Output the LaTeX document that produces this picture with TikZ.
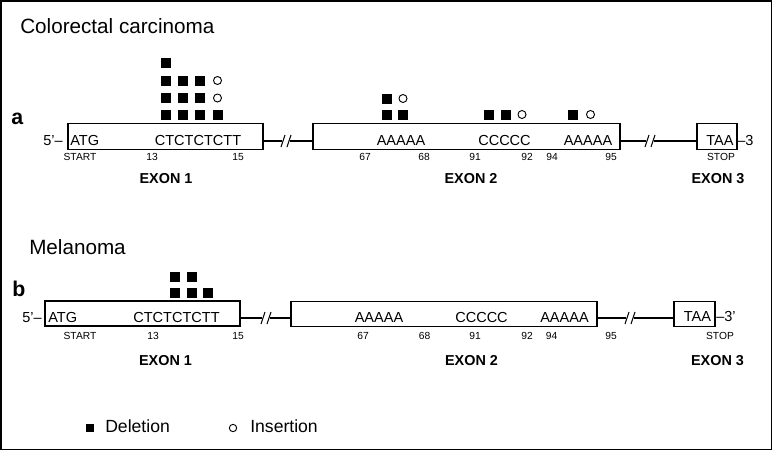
\documentclass[tikz,border=0pt]{standalone}
\usepackage{fontspec}
\setmainfont{Liberation Sans}
\usetikzlibrary{calc}
\tikzstyle{exon} = [rectangle, draw, line width=0.9pt, inner sep=0pt]
\tikzstyle{gene} = [line width=0.8pt]
\tikzstyle{seq} = [anchor=base, inner sep=0pt, font=\fontsize{10.9}{12}\selectfont]
\tikzstyle{poslabel} = [anchor=base, inner sep=0pt, font=\fontsize{7.7}{9}\selectfont]
\tikzstyle{exonlabel} = [anchor=base, inner sep=0pt, font=\fontsize{10.8}{12}\selectfont\bfseries]
\tikzstyle{panel} = [anchor=base west, inner sep=0pt, font=\fontsize{16}{18}\selectfont\bfseries]
\tikzstyle{heading} = [anchor=base west, inner sep=0pt, font=\fontsize{15.5}{18}\selectfont]
\tikzstyle{del} = [rectangle, fill=black, minimum size=7.5pt, inner sep=0pt]
\tikzstyle{ins} = [circle, draw, line width=0.7pt, minimum size=6pt, inner sep=0pt]
\newcommand{\genebreak}[1]{%
  \draw[gene] ($(#1)+(-6,6)$) -- ($(#1)+(-2,-6)$);
  \draw[gene] ($(#1)+(0,6)$) -- ($(#1)+(4,-6)$);}

\begin{document}
\begin{tikzpicture}[x=0.75pt, y=-0.75pt]
        \useasboundingbox (0,0) rectangle (773,451);
        \draw[line width=1.1pt] (1,1) rectangle (771.5,449.5);

        % panel a
        \node[heading] (TitleA) at (20,33) {Colorectal carcinoma};
        \node[panel] (LabelA) at (11,124) {a};
        \node[exon, minimum width=146.25pt, minimum height=19.5pt] at (165.5,136.5) (ExonOneA) {};
        \node[exon, minimum width=230.25pt, minimum height=19.5pt] at (466.5,136.5) (ExonTwoA) {};
        \node[exon, minimum width=30pt, minimum height=19.5pt] at (717,136.5) (ExonThreeA) {};

        \node[seq, anchor=base east] at (63,145) (FiveA) {5'–};
        \node[seq, anchor=base west] at (70,145) (AtgA) {ATG};
        \node[seq] at (198,145) (CodonA) {CTCTCTCTT};
        \node[seq] at (401,145) (PolyAOneA) {AAAAA};
        \node[seq] at (504.5,145) (PolyCA) {CCCCC};
        \node[seq] at (588,145) (PolyATwoA) {AAAAA};
        \node[seq] at (720,145) (TaaA) {TAA};
        \node[seq, anchor=base west] at (737,145) (ThreeA) {–3};

        \node[poslabel] at (80,160) (StartA) {START};
        \node[poslabel] at (152,160) (PosA13) {13};
        \node[poslabel] at (238,160) (PosA15) {15};
        \node[poslabel] at (365,160) (PosA67) {67};
        \node[poslabel] at (424,160) (PosA68) {68};
        \node[poslabel] at (475,160) (PosA91) {91};
        \node[poslabel] at (527,160) (PosA92) {92};
        \node[poslabel] at (552,160) (PosA94) {94};
        \node[poslabel] at (611,160) (PosA95) {95};
        \node[poslabel] at (721,160) (StopA) {STOP};

        \node[exonlabel] at (166,183) (NameOneA) {EXON 1};
        \node[exonlabel] at (471,183) (NameTwoA) {EXON 2};
        \node[exonlabel] at (718,183) (NameThreeA) {EXON 3};

        \coordinate (BreakOneA) at (287,141);
        \coordinate (BreakTwoA) at (651,141);
        \draw[gene] (ExonOneA.east |- BreakOneA) -- ($(BreakOneA)+(-5,0)$);
        \draw[gene] ($(BreakOneA)+(3,0)$) -- (ExonTwoA.west |- BreakOneA);
        \draw[gene] (ExonTwoA.east |- BreakTwoA) -- ($(BreakTwoA)+(-5,0)$);
        \draw[gene] ($(BreakTwoA)+(3,0)$) -- (ExonThreeA.west |- BreakTwoA);
        \genebreak{BreakOneA}
        \genebreak{BreakTwoA}

        \foreach \x/\y [count=\i] in {166/63, 166/80.5, 166/98, 166/115, 183/80.5, 183/98, 183/115,
            199.5/80.5, 199.5/98, 199.5/115, 217.5/115, 387/98.5, 387/114.5, 403/114.5,
            488.5/114.5, 505.5/114.5, 573/114.5}
            \node[del] (DelA\i) at (\x,\y) {};
        \foreach \x/\y [count=\i] in {217.5/80.5, 217.5/98, 403/98.5, 522/114.5, 590.5/114.5}
            \node[ins] (InsA\i) at (\x,\y) {};

        % panel b
        \node[heading] (TitleB) at (29,254) {Melanoma};
        \node[panel] (LabelB) at (12,296) {b};
        \node[exon, minimum width=146.25pt, minimum height=18.75pt] at (142.5,313.5) (ExonOneB) {};
        \node[exon, minimum width=229.5pt, minimum height=18.75pt] at (444,314) (ExonTwoB) {};
        \node[exon, minimum width=30.75pt, minimum height=18.75pt] at (694.5,314) (ExonThreeB) {};

        \node[seq, anchor=base east] at (42,322) (FiveB) {5'–};
        \node[seq, anchor=base west] at (48,322) (AtgB) {ATG};
        \node[seq] at (176.5,322) (CodonB) {CTCTCTCTT};
        \node[seq] at (379,322) (PolyAOneB) {AAAAA};
        \node[seq] at (481.5,322) (PolyCB) {CCCCC};
        \node[seq] at (564.5,322) (PolyATwoB) {AAAAA};
        \node[seq] at (697.5,321) (TaaB) {TAA};
        \node[seq, anchor=base west] at (716,321) (ThreeB) {–3'};

        \node[poslabel] at (80,339) (StartB) {START};
        \node[poslabel] at (153,339) (PosB13) {13};
        \node[poslabel] at (238,339) (PosB15) {15};
        \node[poslabel] at (363,339) (PosB67) {67};
        \node[poslabel] at (424.5,339) (PosB68) {68};
        \node[poslabel] at (475,339) (PosB91) {91};
        \node[poslabel] at (527,339) (PosB92) {92};
        \node[poslabel] at (551.5,339) (PosB94) {94};
        \node[poslabel] at (611,339) (PosB95) {95};
        \node[poslabel] at (720,339) (StopB) {STOP};

        \node[exonlabel] at (165.5,365) (NameOneB) {EXON 1};
        \node[exonlabel] at (471.5,365) (NameTwoB) {EXON 2};
        \node[exonlabel] at (717.5,365) (NameThreeB) {EXON 3};

        \coordinate (BreakOneB) at (267,318);
        \coordinate (BreakTwoB) at (631,318);
        \draw[gene] (ExonOneB.east |- BreakOneB) -- ($(BreakOneB)+(-5,0)$);
        \draw[gene] ($(BreakOneB)+(3,0)$) -- (ExonTwoB.west |- BreakOneB);
        \draw[gene] (ExonTwoB.east |- BreakTwoB) -- ($(BreakTwoB)+(-5,0)$);
        \draw[gene] ($(BreakTwoB)+(3,0)$) -- (ExonThreeB.west |- BreakTwoB);
        \genebreak{BreakOneB}
        \genebreak{BreakTwoB}

        \foreach \x/\y [count=\i] in {175/277, 192/277, 175/293, 192/293, 208/293}
            \node[del] (DelB\i) at (\x,\y) {};

        % legend
        \node[del, minimum size=6pt] (DelKey) at (90,428) {};
        \node[heading, font=\fontsize{13.2}{15}\selectfont] (DelText) at (105,432) {Deletion};
        \node[ins, minimum size=5.5pt] (InsKey) at (233,428) {};
        \node[heading, font=\fontsize{13.2}{15}\selectfont] (InsText) at (250,432) {Insertion};
\end{tikzpicture}
\end{document}
